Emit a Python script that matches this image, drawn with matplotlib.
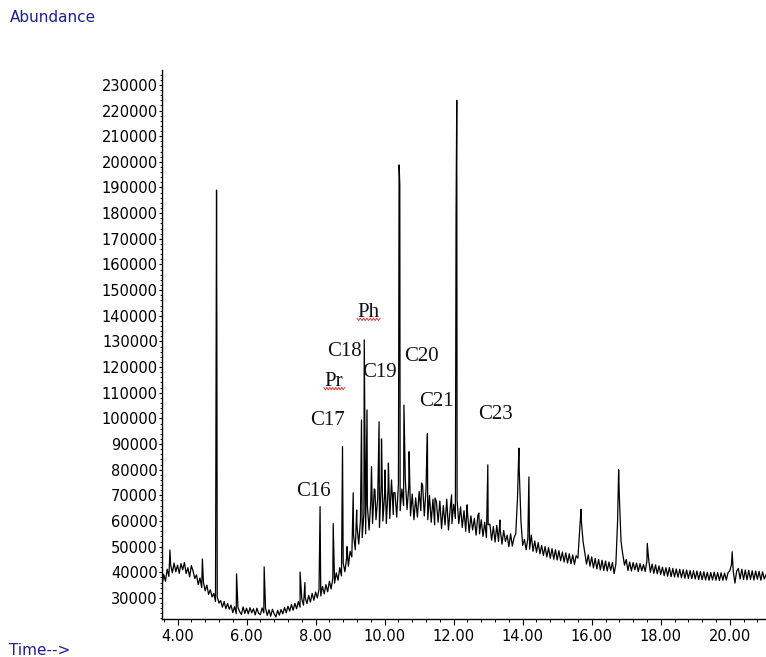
import numpy as np
import matplotlib
matplotlib.use("Agg")
import matplotlib.pyplot as plt
from matplotlib.ticker import MultipleLocator, FormatStrFormatter

# chromatogram baseline: one value every 0.05 min from 3.55 min
trace_start = 3.55
trace_step = 0.05
trace = [
    34800, 39200, 36500, 41200, 38400, 43000, 39800, 43600, 40200, 42800,   # 3.55 - 4.00
    39600, 43400, 41000, 43800, 39500, 41800, 38200, 42600, 40500, 37600,   # 4.05 - 4.50
    39000, 35200, 37800, 34000, 36200, 32800, 35000, 31400, 33200, 30400,   # 4.55 - 5.00
    31800, 28600, 30500, 28000, 29000, 26400, 28600, 25800, 27900, 25600,   # 5.05 - 5.50
    27200, 24300, 26600, 23900, 26400, 24600, 23600, 26500, 24000, 26000,   # 5.55 - 6.00
    23800, 26200, 24200, 25800, 23400, 26000, 24000, 23500, 26100, 24200,   # 6.05 - 6.50
    26000, 23200, 25400, 22900, 25600, 23800, 22600, 25200, 23300, 25500,   # 6.55 - 7.00
    23800, 26300, 24200, 26800, 24900, 27400, 25200, 27900, 25800, 28600,   # 7.05 - 7.50
    26400, 29600, 27200, 30100, 27800, 31000, 28400, 31800, 29100, 32300,   # 7.55 - 8.00
    30000, 33400, 30800, 34500, 31600, 35200, 32400, 36500, 33500, 37800,   # 8.05 - 8.50
    35800, 39800, 36900, 41800, 38600, 43600, 40200, 45800, 42400, 48200,   # 8.55 - 9.00
    46000, 54500, 48800, 58000, 51000, 60500, 53500, 63000, 55000, 66000,   # 9.05 - 9.50
    56500, 68000, 59000, 72500, 60500, 69000, 57500, 74000, 60000, 70500,   # 9.55 - 10.00
    59000, 72500, 61000, 76000, 62500, 71000, 61500, 74500, 64000, 72500,   # 10.05 - 10.50
    66000, 76000, 64500, 73500, 62000, 70500, 60500, 69000, 61500, 71500,   # 10.55 - 11.00
    64000, 74000, 62000, 72500, 60500, 70000, 59500, 68500, 58500, 67500,   # 11.05 - 11.50
    59500, 67800, 57000, 66000, 58500, 68500, 56500, 65000, 59000, 66500,   # 11.55 - 12.00
    61000, 68000, 59000, 65500, 57500, 64000, 56000, 63500, 55500, 62000,   # 12.05 - 12.50
    56500, 61000, 54500, 62000, 55000, 60500, 54000, 59500, 53500, 58500,   # 12.55 - 13.00
    58800, 52500, 57900, 51800, 58300, 52000, 56800, 51000, 56300, 52000,   # 13.05 - 13.50
    54500, 50000, 55000, 50200, 53500, 55000, 69000, 80000, 60000, 50500,   # 13.55 - 14.00
    52800, 48800, 53200, 49000, 54500, 48200, 52200, 47800, 51600, 47200,   # 14.05 - 14.50
    50500, 46600, 50000, 46000, 49600, 45500, 49200, 45100, 48800, 44800,   # 14.55 - 15.00
    48400, 44500, 47900, 44000, 47600, 43600, 47200, 43300, 46800, 43100,   # 15.05 - 15.50
    46500, 45500, 56000, 60000, 52000, 47500, 43200, 46800, 42400, 46000,   # 15.55 - 16.00
    41700, 45400, 41300, 45000, 40900, 44700, 40700, 44400, 40500, 44000,   # 16.05 - 16.50
    40800, 43800, 39500, 43200, 60000, 70000, 52000, 47000, 42800, 45000,   # 16.55 - 17.00
    40700, 44000, 40500, 43800, 41000, 43600, 40300, 43400, 40600, 43000,   # 17.05 - 17.50
    40300, 44500, 45000, 40000, 43200, 39600, 42900, 39400, 42500, 39200,   # 17.55 - 18.00
    42000, 38700, 41800, 38500, 41900, 38300, 41500, 38200, 41300, 38100,   # 18.05 - 18.50
    41200, 37900, 41000, 37700, 40900, 37600, 40700, 37500, 40600, 37400,   # 18.55 - 19.00
    40500, 37200, 40300, 37100, 40200, 37000, 40000, 36900, 39900, 37000,   # 19.05 - 19.50
    40100, 36900, 39900, 36800, 39800, 36900, 39700, 37000, 39900, 40500,   # 19.55 - 20.00
    43000, 40500, 35800, 40500, 41500, 37400, 41200, 37200, 40900, 37100,   # 20.05 - 20.50
    40800, 37200, 40600, 37000, 40500, 37300, 40400, 36900, 40200, 37400,   # 20.55 - 21.00
    39000,
]

# peak apexes (retention time in min, abundance)
peak_time = [3.78, 4.72, 5.13, 5.14, 5.71, 6.51, 7.55, 7.69, 8.13, 8.51,
             8.78, 8.91, 9.09, 9.19, 9.33, 9.41, 9.49, 9.62, 9.72, 9.84,
             9.91, 10.01, 10.11, 10.26, 10.42, 10.44, 10.56, 10.71, 11.07, 11.21,
             11.24, 11.46, 11.94, 12.07, 12.08, 12.09, 12.39, 12.73, 12.99, 13.34,
             13.89, 14.18, 15.69, 16.78, 17.61, 20.07]
peak_abund = [48700, 45200, 189000, 130000, 39400, 42100, 40100, 36000, 65600, 59000,
              89000, 50000, 71000, 64300, 99400, 130600, 103300, 81200, 72100, 98700,
              92000, 79900, 82600, 71000, 198800, 191000, 105200, 87000, 74800, 79000,
              94000, 69000, 70200, 179000, 204000, 224000, 66300, 63100, 81900, 60400,
              88400, 77200, 64600, 80000, 51300, 48000]

# compound labels
label_text = ["C16", "C17", "Pr", "C18", "Ph", "C19", "C20", "C21", "C23"]
label_time = [7.94, 8.34, 8.53, 8.85, 9.53, 9.86, 11.07, 11.50, 13.21]
label_abund = [69800, 97400, 112600, 124500, 139400, 116300, 122200, 105000, 99700]

# merge baseline and peaks into one signal
trace_time = np.round(trace_start + trace_step * np.arange(len(trace)), 2)
t = np.concatenate([trace_time, peak_time])
y = np.concatenate([trace, peak_abund])
order = np.argsort(t, kind="stable")
t, y = t[order], y[order]

fig = plt.figure(figsize=(7.66, 6.57), dpi=100)
ax = fig.add_axes([162 / 766, 38 / 657, 604 / 766, 549 / 657])

ax.plot(t, y, color="black", linewidth=0.9)

ax.set_xlim(3.55, 21.05)
ax.set_ylim(21800, 235800)

ax.spines["top"].set_visible(False)
ax.spines["right"].set_visible(False)
ax.spines["left"].set_linewidth(1.0)
ax.spines["bottom"].set_linewidth(1.0)

ax.xaxis.set_major_locator(MultipleLocator(2))
ax.xaxis.set_minor_locator(MultipleLocator(0.4))
ax.xaxis.set_major_formatter(FormatStrFormatter("%.2f"))
ax.yaxis.set_major_locator(MultipleLocator(10000))
ax.yaxis.set_minor_locator(MultipleLocator(2000))
ax.yaxis.set_major_formatter(FormatStrFormatter("%d"))

ax.tick_params(axis="x", which="major", direction="out", length=4, width=0.8,
               labelsize=10.5, pad=3)
ax.tick_params(axis="x", which="minor", direction="out", length=2.5, width=0.7)
ax.tick_params(axis="y", which="major", direction="out", length=2.5, width=0.8,
               labelsize=10.5, pad=0.5)
ax.tick_params(axis="y", which="minor", direction="out", length=1.5, width=0.6)

for txt, lt, la in zip(label_text, label_time, label_abund):
    ax.text(lt, la, txt, fontsize=15, family="Liberation Serif", color="#101018",
            ha="center", va="baseline")


# red spell-check squiggle under Pr and Ph
def squiggle(x0, x1, yc, amp=450, n=15):
    xs = np.linspace(x0, x1, n)
    ys = yc + amp * np.where(np.arange(n) % 2 == 0, 1, -1)
    ax.plot(xs, ys, color="#e03535", linewidth=0.7)


squiggle(8.24, 8.84, 111600)
squiggle(9.20, 9.87, 138600)

fig.text(10 / 766, 1 - 18 / 657, "Abundance", fontsize=11, color="#1f1f96",
         ha="left", va="center")
fig.text(9 / 766, 2 / 657, "Time-->", fontsize=11, color="#1f1f96",
         ha="left", va="baseline")

plt.savefig("out.png", dpi=100)
plt.close()
